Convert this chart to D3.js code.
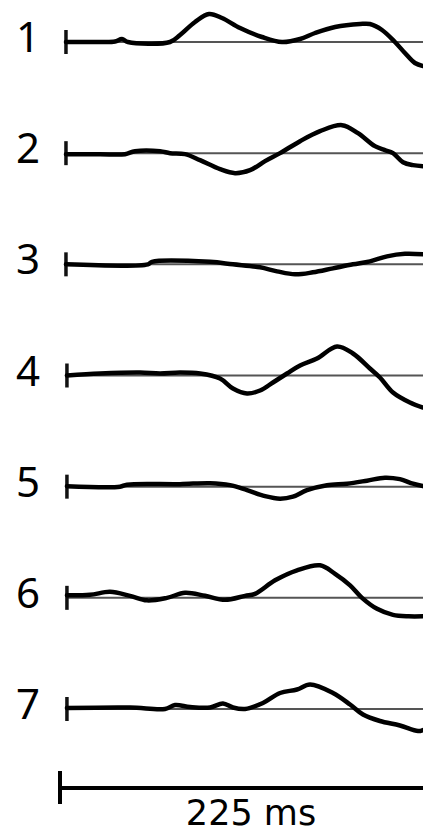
<!DOCTYPE html>
<html>
<head>
<meta charset="utf-8">
<script src="https://cdn.jsdelivr.net/npm/d3@7"></script>
<style>
  body { margin: 0; background: #fff; }
  svg { display: block; }
</style>
</head>
<body>
<div id="chart"></div>
<script>
// channel labels
var channels = ["1", "2", "3", "4", "5", "6", "7"];

// each trace: [time in ms, amplitude] (amplitude, arbitrary units, up = positive)
var trace1 = [[3.7,0],[24.8,0],[34.1,0.5],[38.4,3],[42.1,0],[68.2,0],[74.4,7],[83.7,20],[92.4,28],[100.4,24],
  [111.6,14],[125.2,5],[137.6,0],[148.8,3],[158.1,9],[170.5,15],[186,18],[192.1,18],[199.6,12],[207.6,0],
  [213.8,-11],[220,-21],[225,-24]];
var trace2 = [[3.7,-1],[24.8,-1],[40.3,-1],[46.5,2],[62,2],[68.2,0],[77.5,-1],[86.8,-7],[99.2,-16],[108.5,-20],
  [117.8,-17],[127.1,-8],[136.4,0],[148.8,12],[161.2,22],[174.8,28],[184.7,20],[195.2,7],[201.4,3],[206.4,0],
  [212.6,-9],[218.8,-12],[225,-13]];
var trace3 = [[3.7,0],[54.5,0],[57,2.5],[93,2.5],[107.2,0],[124,-3],[134.5,-7],[145.7,-10],[156.8,-8],[169.2,-4],
  [181.6,0],[192.1,3],[202.7,8],[213.8,10.5],[225,10]];
var trace4 = [[4.3,0],[24.8,2],[49.6,3],[62,2],[74.4,3],[86.8,2],[99.2,-3],[107.2,-13],[115.9,-18],[124,-15],
  [132,-7],[140.7,2],[148.8,10],[159.3,17],[171.7,29],[181.6,22],[192.1,7],[198.3,-2],[206.4,-17],[216.9,-27],[225,-32]];
var trace5 = [[4.3,0.5],[37.2,0],[41.5,2],[74.4,2.5],[93,3.5],[105.4,1.5],[115.9,-3.5],[127.1,-9.5],[136.4,-12],
  [144.4,-10],[153.1,-3.5],[165.5,1.5],[177.9,3],[190.3,6],[201.4,9],[210.7,7.5],[218.8,3],[225,0.5]];
var trace6 = [[4.3,2.5],[18.6,3],[31,6],[43.4,2],[53.9,-2.5],[66.3,0],[77.5,5],[89.9,2],[102.3,-2],[114.7,2],
  [120.9,4],[133.3,17.5],[146.9,27.5],[161.2,32.5],[170.5,24],[179.8,12.5],[187.2,0],[196.5,-11],[206.4,-17],
  [216,-18.5],[225,-18.5]];
var trace7 = [[4.3,1],[43.4,1.5],[65.1,0],[71.3,4],[80.6,2],[93,1.5],[101,5.5],[107.2,1.5],[114.7,0],[125.8,6],
  [136.4,16],[146.9,19.5],[155,24.5],[169.2,16],[179.8,4.5],[187.8,-5.5],[198.3,-12],[210.7,-16.5],[221.9,-22],[225,-21]];

var traces = [trace1, trace2, trace3, trace4, trace5, trace6, trace7];

// scale bar
var scaleBarMs = 225;
var scaleBarLabel = "225 ms";

var width = 423, height = 834;

var svg = d3.select("#chart").append("svg")
  .attr("width", width)
  .attr("height", height);

var x = d3.scaleLinear()
  .domain([0, scaleBarMs])
  .range([60, 423]);

var row = d3.scalePoint()
  .domain(channels)
  .range([42, 709]);

var amp = d3.scaleLinear()
  .domain([-40, 40])
  .range([40, -40]);

var line = d3.line()
  .x(function(d) { return x(d[0]); })
  .y(function(d) { return amp(d[1]); })
  .curve(d3.curveCatmullRom.alpha(0.5));

var rows = svg.selectAll(".row")
  .data(channels)
  .enter()
  .append("g")
  .attr("class", "row")
  .attr("transform", function(d) { return "translate(0," + row(d) + ")"; });

// channel number
rows.append("text")
  .attr("x", 28)
  .attr("y", 10)
  .attr("text-anchor", "middle")
  .attr("font-family", "'Noto Sans', sans-serif")
  .attr("font-size", 42)
  .attr("fill", "#000")
  .text(function(d) { return d; });

// zero line
rows.append("line")
  .attr("x1", function(d, i) { return x(traces[i][0][0]); })
  .attr("x2", x(scaleBarMs))
  .attr("y1", amp(0))
  .attr("y2", amp(0))
  .attr("stroke", "#555")
  .attr("stroke-width", 2);

// onset tick
rows.append("line")
  .attr("x1", function(d, i) { return x(traces[i][0][0]); })
  .attr("x2", function(d, i) { return x(traces[i][0][0]); })
  .attr("y1", -12)
  .attr("y2", 12)
  .attr("stroke", "#111")
  .attr("stroke-width", 3.5);

// the trace
rows.append("path")
  .attr("d", function(d, i) { return line(traces[i]); })
  .attr("fill", "none")
  .attr("stroke", "#000")
  .attr("stroke-width", 4.5)
  .attr("stroke-linejoin", "round")
  .attr("stroke-linecap", "round");

// time scale bar
var bar = svg.append("g").attr("transform", "translate(0,788)");

bar.append("line")
  .attr("x1", x(0))
  .attr("x2", x(scaleBarMs))
  .attr("stroke", "#000")
  .attr("stroke-width", 4);

bar.append("line")
  .attr("x1", x(0))
  .attr("x2", x(0))
  .attr("y1", -17)
  .attr("y2", 16)
  .attr("stroke", "#000")
  .attr("stroke-width", 4);

bar.append("text")
  .attr("x", 251)
  .attr("y", 37)
  .attr("text-anchor", "middle")
  .attr("font-family", "'DejaVu Sans', sans-serif")
  .attr("font-size", 35)
  .attr("fill", "#000")
  .text(scaleBarLabel);
</script>
</body>
</html>
